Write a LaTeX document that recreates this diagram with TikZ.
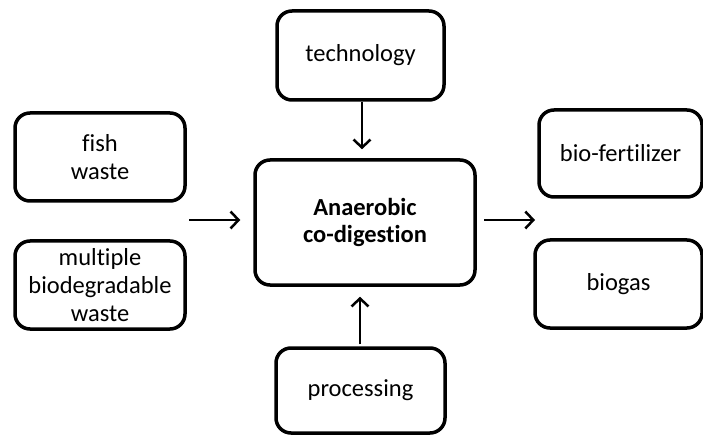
\documentclass[tikz,border=0pt]{standalone}
\usepackage{fontspec}
\setmainfont[Ligatures=NoCommon]{Carlito}
\usetikzlibrary{arrows.meta,calc}
\begin{document}
\begin{tikzpicture}[x=1pt,y=-1pt,
  box/.style={draw=black, line width=3.5pt, rounded corners=15pt, minimum width=#1, inner sep=0pt, align=center, font=\fontsize{24.5}{28}\selectfont},
  arr/.style={line width=2.5pt, -{Straight Barb[length=8pt,width=17pt,line width=2.5pt]}}]
\useasboundingbox (0,0) rectangle (703,435);
\node[box=167pt, minimum height=89pt] (tech) at (360.5,55.5) {technology};
\node[box=170pt, minimum height=88pt] (fish) at (100,157) {fish\\waste};
\node[box=170pt, minimum height=88pt] (multi) at (100,285) {multiple\\biodegradable\\waste};
\node[box=220pt, minimum height=125pt, font=\fontsize{24.5}{27}\selectfont\bfseries] (anaer) at (365,222.5) {Anaerobic\\co-digestion};
\node[box=163pt, minimum height=87pt] (fert) at (620.5,153.5) {bio-fertilizer};
\node[box=167pt, minimum height=88pt] (gas) at (618.5,284) {biogas};
\node[box=169pt, minimum height=85pt] (proc) at (360.5,390.5) {processing};
\coordinate (inL) at (189,220);
\coordinate (outR) at (484,220);
\coordinate (outE) at (535,220);
\draw[arr, shorten >=13pt] (inL) -- (inL -| anaer.west);
\draw[arr] (outR) -- (outE);
\draw[arr, shorten >=9pt] (tech.south -| 362,0) -- (anaer.north -| 362,0);
\draw[arr, shorten <=2pt, shorten >=10pt] (proc.north -| 360,0) -- (anaer.south -| 360,0);
\end{tikzpicture}
\end{document}
